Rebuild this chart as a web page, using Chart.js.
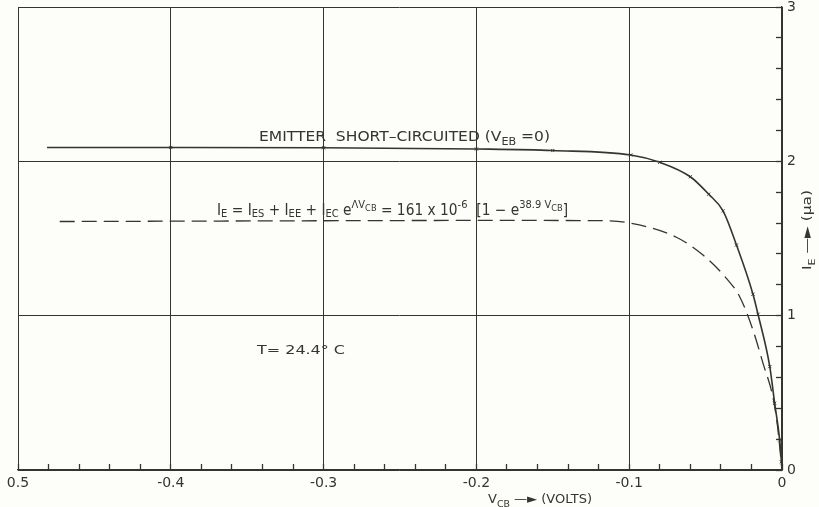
<!DOCTYPE html>
<html>
<head>
<meta charset="utf-8">
<script src="https://cdn.jsdelivr.net/npm/chart.js@4/dist/chart.umd.min.js"></script>
<style>
  html, body { margin: 0; padding: 0; background: #fdfdf9; }
  #c { display: block; }
</style>
</head>
<body>
<canvas id="c" width="819" height="507"></canvas>
<script>
// ---- data ----
const xTickValues = [-0.5, -0.4, -0.3, -0.2, -0.1, 0];
const xTickLabels = ['0.5', '-0.4', '-0.3', '-0.2', '-0.1', '0'];
const yTickValues = [0, 1, 2, 3];
const yTickLabels = ['0', '1', '2', '3'];

// Emitter short-circuited (V_EB = 0), solid curve
const shortCircuitV = [-0.481, -0.40, -0.30, -0.20, -0.15, -0.099, -0.080, -0.060, -0.048, -0.0386, -0.0298, -0.019, -0.0157, -0.008, -0.0048, -0.0015, -0.0004, 0];
const shortCircuitI = [2.09, 2.09, 2.088, 2.08, 2.07, 2.041, 1.994, 1.90, 1.787, 1.679, 1.458, 1.139, 1.009, 0.670, 0.432, 0.194, 0.054, 0];

// Formula curve, dashed
const formulaV = [-0.4727, -0.30, -0.20, -0.1206, -0.0997, -0.0691, -0.0517, -0.0364, -0.0277, -0.019, -0.0124, -0.0059, -0.003, 0];
const formulaI = [1.61, 1.615, 1.617, 1.616, 1.60, 1.508, 1.393, 1.242, 1.123, 0.907, 0.691, 0.47, 0.29, 0];

const INK = '#35352d';
const FAM = '"DejaVu Sans", "Liberation Sans", sans-serif';
const X_MINOR = 0.02, Y_MINOR = 0.2;

function toXY(xs, ys) { return xs.map((x, i) => ({ x: x, y: ys[i] })); }
function isMult(v, step) { const r = v / step; return Math.abs(r - Math.round(r)) < 1e-6; }
function idxOf(arr, v) { return arr.findIndex(a => Math.abs(a - v) < 1e-6); }
function minorTicks(min, max, step) {
  const n = Math.round((max - min) / step), out = [];
  for (let k = 0; k <= n; k++) out.push({ value: min + k * step });
  return out;
}

// rich text: segments [text, mode], mode: n | sub | lsub | sup | supsub
function segSize(mode, base) { return mode === 'n' ? base : (mode === 'supsub' ? base * 0.6 : base * 0.72); }
function segDy(mode, base) {
  if (mode === 'n') return 0;
  if (mode === 'sub') return base * 0.3;
  if (mode === 'lsub') return base * 0.1;
  if (mode === 'sup') return -base * 0.45;
  return -base * 0.3;
}
function drawRich(ctx, segs, x, y, target, base) {
  let total = 0;
  const widths = segs.map(s => { ctx.font = segSize(s[1], base) + 'px ' + FAM; const w = ctx.measureText(s[0]).width; total += w; return w; });
  const sx = target ? target / total : 1;
  ctx.save();
  ctx.translate(x, y);
  ctx.scale(sx, 1);
  ctx.fillStyle = INK;
  ctx.textBaseline = 'alphabetic';
  ctx.textAlign = 'left';
  let cx = 0;
  segs.forEach((s, i) => {
    ctx.font = segSize(s[1], base) + 'px ' + FAM;
    ctx.fillText(s[0], cx, segDy(s[1], base));
    cx += widths[i];
  });
  ctx.restore();
}

const decor = {
  id: 'decor',
  beforeDraw(chart) {
    const ctx = chart.ctx;
    ctx.save();
    ctx.fillStyle = '#fdfdf9';
    ctx.fillRect(0, 0, chart.width, chart.height);
    ctx.restore();
  },
  afterDraw(chart) {
    const ctx = chart.ctx;
    // annotations
    drawRich(ctx, [['EMITTER  SHORT\u2013CIRCUITED (V', 'n'], ['EB', 'sub'], [' =0)', 'n']], 259, 141, 291, 14);
    drawRich(ctx, [
      ['I', 'n'], ['E', 'lsub'], [' = I', 'n'], ['ES', 'lsub'], [' + I', 'n'], ['EE', 'lsub'], [' + I', 'n'], ['EC', 'lsub'],
      [' e', 'n'], ['\u039BV', 'sup'], ['CB', 'supsub'], [' = 161 x 10', 'n'], ['-6', 'sup'], ['  [1 \u2212 e', 'n'],
      ['38.9 V', 'sup'], ['CB', 'supsub'], [']', 'n']
    ], 217, 215, 351, 15);
    drawRich(ctx, [['T= 24.4\u00B0 C', 'n']], 257, 354, 88, 12);
    drawRich(ctx, [['V', 'n'], ['CB', 'sub'], [' \u2014\u25BA (VOLTS)', 'n']], 488, 503, 104, 13);

    // rotated y title
    ctx.save();
    ctx.translate(811, 230);
    ctx.rotate(-Math.PI / 2);
    drawRich(ctx, [['I', 'n'], ['E', 'sub'], [' \u2014\u25BA (\u03BCa)', 'n']], -40, 0, 80, 13);
    ctx.restore();
  }
};

new Chart(document.getElementById('c'), {
  type: 'line',
  data: {
    datasets: [
      {
        label: 'Emitter short-circuited',
        data: toXY(shortCircuitV, shortCircuitI),
        borderColor: INK,
        borderWidth: 1.6,
        cubicInterpolationMode: 'monotone',
        pointStyle: 'crossRot',
        pointRadius: ctx => (ctx.dataIndex === 0 || ctx.dataIndex === shortCircuitV.length - 1) ? 0 : 2.2,
        pointBorderColor: INK,
        pointBorderWidth: 1,
        fill: false
      },
      {
        label: 'Formula',
        data: toXY(formulaV, formulaI),
        borderColor: INK,
        borderWidth: 1.3,
        borderDash: [15, 7],
        cubicInterpolationMode: 'monotone',
        pointRadius: 0,
        fill: false
      }
    ]
  },
  options: {
    responsive: false,
    animation: false,
    devicePixelRatio: 1,
    layout: { padding: { left: 18, top: 7, right: 0, bottom: 0 } },
    plugins: { legend: { display: false }, tooltip: { enabled: false } },
    scales: {
      x: {
        type: 'linear',
        min: -0.5, max: 0,
        afterBuildTicks: s => { s.ticks = minorTicks(-0.5, 0, X_MINOR); },
        ticks: {
          autoSkip: false,
          maxRotation: 0,
          padding: 11,
          color: INK,
          font: { family: FAM, size: 14 },
          callback: v => { const i = idxOf(xTickValues, v); return i >= 0 ? xTickLabels[i] : ''; }
        },
        grid: {
          drawTicks: true,
          tickLength: -6,
          tickWidth: 1.3,
          tickColor: INK,
          lineWidth: 1,
          color: c => (c.tick && isMult(c.tick.value, 0.1)) ? INK : 'rgba(0,0,0,0)'
        },
        border: { display: true, color: INK, width: 1.3 },
        afterFit: s => { s.height = 37; s.paddingLeft = 0; s.paddingRight = 0; s.paddingTop = 0; s.paddingBottom = 0; }
      },
      y: {
        type: 'linear',
        position: 'right',
        min: 0, max: 3,
        afterBuildTicks: s => { s.ticks = minorTicks(0, 3, Y_MINOR); },
        ticks: {
          autoSkip: false,
          padding: 11,
          color: INK,
          font: { family: FAM, size: 14 },
          callback: v => { const i = idxOf(yTickValues, v); return i >= 0 ? yTickLabels[i] : ''; }
        },
        grid: {
          drawTicks: true,
          tickLength: -6,
          tickWidth: 1.3,
          tickColor: INK,
          lineWidth: 1,
          color: c => (c.tick && isMult(c.tick.value, 1)) ? INK : 'rgba(0,0,0,0)'
        },
        border: { display: true, color: INK, width: 1.3 },
        afterFit: s => { s.width = 37; s.paddingLeft = 0; s.paddingRight = 0; s.paddingTop = 0; s.paddingBottom = 0; }
      }
    }
  },
  plugins: [decor]
});
</script>
</body>
</html>
